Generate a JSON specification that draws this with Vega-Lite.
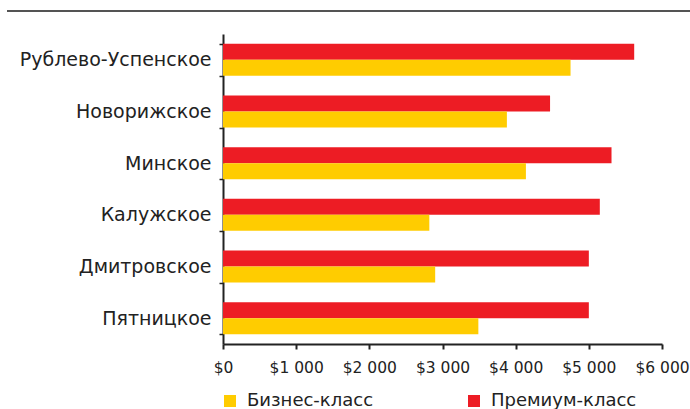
{
  "$schema": "https://vega.github.io/schema/vega-lite/v6.json",
  "autosize": {"type": "none"},
  "width": 439,
  "height": 310,
  "padding": {"left": 223, "top": 34, "right": 28, "bottom": 65},
  "background": "white",
  "config": {
    "view": {"stroke": null},
    "font": "DejaVu Sans",
    "axis": {"labelColor": "#222", "domainColor": "#222", "tickColor": "#222", "grid": false, "title": null}
  },
  "data": {
    "values": [
      {"direction": "Рублево-Успенское", "segment": "Премиум-класс", "price": 5620},
      {"direction": "Рублево-Успенское", "segment": "Бизнес-класс", "price": 4750},
      {"direction": "Новорижское", "segment": "Премиум-класс", "price": 4470},
      {"direction": "Новорижское", "segment": "Бизнес-класс", "price": 3880},
      {"direction": "Минское", "segment": "Премиум-класс", "price": 5310},
      {"direction": "Минское", "segment": "Бизнес-класс", "price": 4140},
      {"direction": "Калужское", "segment": "Премиум-класс", "price": 5150},
      {"direction": "Калужское", "segment": "Бизнес-класс", "price": 2820},
      {"direction": "Дмитровское", "segment": "Премиум-класс", "price": 5000},
      {"direction": "Дмитровское", "segment": "Бизнес-класс", "price": 2900},
      {"direction": "Пятницкое", "segment": "Премиум-класс", "price": 5000},
      {"direction": "Пятницкое", "segment": "Бизнес-класс", "price": 3490}
    ]
  },
  "layer": [
    {
      "mark": {"type": "bar", "opacity": 1},
      "encoding": {
        "y": {
          "field": "direction",
          "type": "nominal",
          "sort": null,
          "scale": {"paddingInner": 0.38, "paddingOuter": 0.19},
          "axis": {
            "tickBand": "extent",
            "tickSize": 4,
            "tickWidth": 1.5,
            "domainWidth": 2,
            "labelFontSize": 19,
            "labelPadding": 8,
            "labelLimit": 220
          }
        },
        "yOffset": {
          "field": "segment",
          "type": "nominal",
          "sort": ["Премиум-класс", "Бизнес-класс"],
          "scale": {"paddingInner": 0, "paddingOuter": 0}
        },
        "x": {
          "field": "price",
          "type": "quantitative",
          "scale": {"domain": [0, 6000], "nice": false},
          "axis": {
            "values": [0, 1000, 2000, 3000, 4000, 5000, 6000],
            "labelExpr": "'$' + replace(format(datum.value, ',d'), ',', ' ')",
            "tickSize": 5,
            "tickWidth": 2,
            "domainWidth": 2,
            "labelFontSize": 15.5,
            "labelPadding": 11,
            "labelOverlap": false,
            "labelBound": false,
            "labelFlush": false
          }
        },
        "color": {
          "field": "segment",
          "type": "nominal",
          "scale": {"domain": ["Бизнес-класс", "Премиум-класс"], "range": ["#FFCC00", "#ED1C24"]},
          "legend": {
            "title": null,
            "orient": "none",
            "direction": "horizontal",
            "legendX": -2,
            "legendY": 358,
            "padding": 0,
            "symbolType": "square",
            "symbolSize": 144,
            "symbolStrokeWidth": 0,
            "symbolOpacity": 1,
            "labelFontSize": 18,
            "labelColor": "#222",
            "labelOffset": 8,
            "columnPadding": 91
          }
        }
      }
    },
    {
      "mark": {"type": "rule", "stroke": "#555", "strokeWidth": 1.5, "clip": false},
      "encoding": {
        "x": {"value": -216},
        "x2": {"value": 467},
        "y": {"value": -23}
      }
    }
  ]
}
